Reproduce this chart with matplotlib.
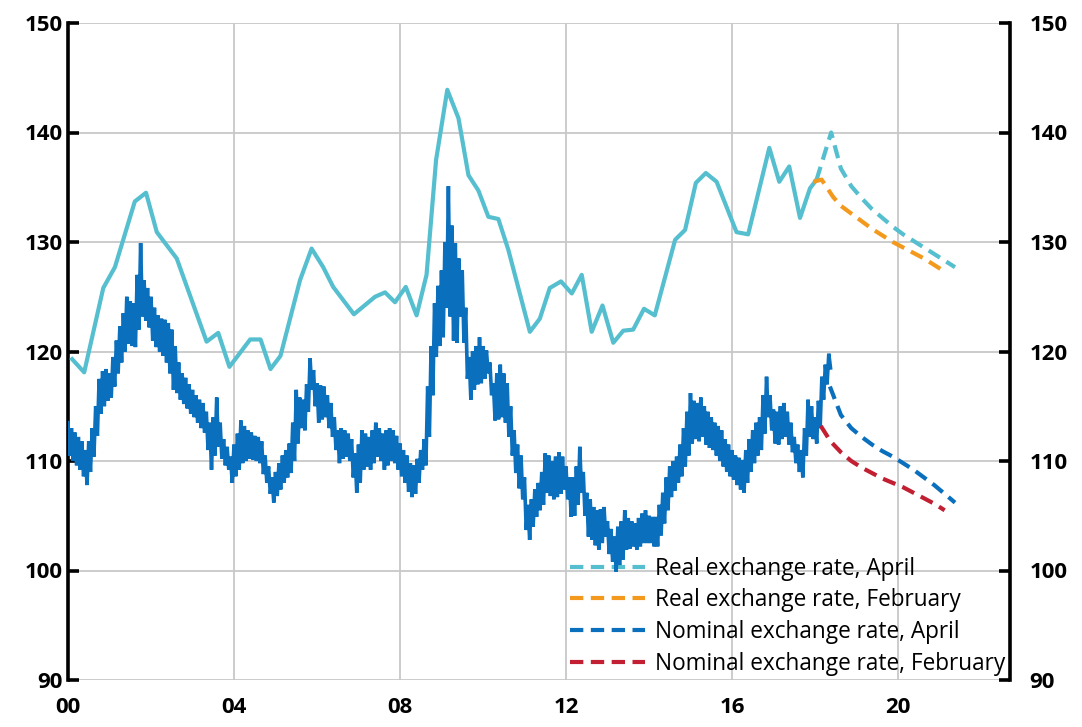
import numpy as np
import matplotlib
matplotlib.use("Agg")
import matplotlib.pyplot as plt

# ---------------- data ----------------
real_years = [2000.10, 2000.39, 2000.85, 2001.13, 2001.61, 2001.88, 2002.14, 2002.62,
              2003.34, 2003.62, 2003.89, 2004.39, 2004.64, 2004.88, 2005.12, 2005.59,
              2005.87, 2006.15, 2006.39, 2006.89, 2007.40, 2007.64, 2007.88, 2008.14,
              2008.40, 2008.64, 2008.87, 2009.14, 2009.41, 2009.65, 2009.89, 2010.13,
              2010.37, 2010.61, 2011.13, 2011.37, 2011.61, 2011.88, 2012.14, 2012.38,
              2012.62, 2012.88, 2013.14, 2013.38, 2013.62, 2013.88, 2014.14, 2014.63,
              2014.87, 2015.13, 2015.37, 2015.63, 2016.11, 2016.39, 2016.90, 2017.14,
              2017.38, 2017.64, 2017.88, 2018.04]
real_values = [119.3, 118.1, 125.8, 127.7, 133.7, 134.5, 130.9, 128.5,
               120.9, 121.7, 118.6, 121.1, 121.1, 118.4, 119.6, 126.5,
               129.4, 127.7, 125.9, 123.4, 125.0, 125.4, 124.5, 125.9,
               123.3, 127.0, 137.5, 143.9, 141.3, 136.1, 134.7, 132.3,
               132.1, 129.3, 121.8, 123.0, 125.8, 126.4, 125.3, 127.0,
               121.8, 124.2, 120.8, 121.9, 122.0, 123.9, 123.3, 130.2,
               131.1, 135.4, 136.3, 135.5, 130.9, 130.7, 138.6, 135.5,
               136.9, 132.2, 134.9, 135.7]

# monthly high / low envelope of the daily nominal rate, Jan 2000 - May 2018
nominal_start = 2000.0
nominal_high = [
    113.5, 113.0, 112.6, 112.2, 111.8, 111.0, 111.8, 113.0, 115.0, 117.5, 118.2, 118.4,  # 2000
    118.0, 119.5, 121.0, 122.3, 123.5, 125.0, 124.6, 124.4, 127.0, 129.9, 126.5, 125.8,  # 2001
    125.0, 124.0, 123.3, 123.0, 122.9, 122.6, 122.0, 120.5, 119.0, 118.0, 117.6, 117.0,  # 2002
    116.5, 116.0, 115.6, 115.3, 114.5, 113.5, 114.0, 115.8, 113.5, 112.0, 111.3, 110.4,  # 2003
    111.5, 112.5, 113.7, 113.2, 112.8, 112.6, 112.3, 112.2, 111.8, 110.5, 109.5, 108.5,  # 2004
    109.0, 109.8, 110.5, 111.0, 111.6, 113.5, 116.5, 115.8, 115.6, 117.0, 119.4, 118.3,  # 2005
    117.1, 116.9, 116.8, 116.0, 115.3, 114.0, 112.8, 113.0, 112.8, 112.5, 112.0, 110.7,  # 2006
    111.5, 112.8, 112.5, 112.2, 112.8, 113.5, 113.0, 112.5, 112.8, 113.0, 112.8, 112.3,  # 2007
    111.6, 111.0, 110.5, 109.8, 109.6, 110.2, 111.0, 112.0, 116.8, 120.5, 124.4, 126.0,  # 2008
    127.4, 130.0, 135.1, 131.5, 129.9, 128.5, 127.4, 124.0, 119.5, 120.0, 120.5, 121.3,  # 2009
    120.5, 120.1, 119.0, 117.1, 118.0, 118.8, 118.0, 117.1, 115.0, 112.8, 111.5, 110.5,  # 2010
    108.5, 106.0, 106.5, 107.4, 108.0, 109.0, 110.7, 110.5, 110.0, 110.4, 110.8, 110.4,  # 2011
    109.5, 108.5, 108.5, 109.5, 111.3, 109.0, 107.1, 106.5, 105.8, 105.5, 105.6, 105.8,  # 2012
    104.5, 103.8, 103.1, 104.0, 104.5, 105.5, 104.8, 104.5, 104.3, 104.8, 105.2, 105.5,  # 2013
    105.0, 104.9, 104.9, 106.0, 107.1, 108.5, 109.5, 110.0, 110.4, 111.5, 113.0, 114.5,  # 2014
    116.2, 115.5, 115.3, 115.8, 115.0, 114.5, 114.0, 113.5, 113.2, 112.8, 112.0, 111.5,  # 2015
    111.0, 110.5, 110.3, 110.1, 111.0, 112.0, 112.8, 113.5, 114.0, 116.0, 117.7, 116.0,  # 2016
    114.7, 114.5, 115.0, 115.3, 114.5, 113.5, 112.2, 111.5, 111.0, 113.0, 115.6, 115.0,  # 2017
    114.0, 115.5, 117.7, 118.8, 119.8,                                                    # 2018
]
nominal_low = [
    110.5, 110.0, 109.6, 109.2, 108.6, 107.8, 109.0, 110.4, 112.3, 114.3, 115.0, 115.5,  # 2000
    115.8, 116.8, 118.0, 119.0, 120.0, 120.7, 120.5, 120.4, 122.0, 123.2, 122.8, 122.2,  # 2001
    121.0, 120.4, 120.0, 119.6, 119.0, 118.0, 116.5, 116.2, 115.6, 115.2, 114.8, 114.3,  # 2002
    114.0, 113.5, 113.0, 112.6, 111.0, 109.2, 110.5, 111.3, 110.2, 109.6, 109.2, 108.0,  # 2003
    108.6, 109.2, 109.8, 110.0, 110.2, 110.1, 110.0, 109.8, 108.8, 108.0, 107.0, 106.2,  # 2004
    106.8, 107.4, 108.0, 108.5, 108.9, 110.0, 111.6, 113.0, 112.8, 114.5, 116.5, 115.0,  # 2005
    113.5, 113.8, 114.0, 113.0, 112.2, 111.0, 109.8, 110.2, 110.4, 110.0, 108.5, 107.1,  # 2006
    108.0, 109.2, 109.5, 109.2, 109.8, 110.4, 110.0, 109.2, 109.6, 110.0, 109.8, 109.2,  # 2007
    108.6, 108.0, 107.2, 106.7, 107.0, 108.0, 109.2, 109.6, 112.2, 116.0, 119.5, 120.5,  # 2008
    121.3, 124.0, 123.2, 121.0, 120.8, 123.2, 120.8, 117.5, 115.6, 116.5, 117.0, 117.1,  # 2009
    117.5, 118.0, 116.0, 113.7, 113.8, 114.0, 113.5, 112.2, 110.5, 108.9, 107.5, 106.5,  # 2010
    103.7, 102.8, 104.0, 104.9, 105.5, 106.0, 107.1, 106.8, 106.5, 106.7, 107.0, 107.4,  # 2011
    106.5, 104.9, 105.0, 106.0, 107.1, 105.0, 103.1, 102.8, 102.3, 101.9, 102.5, 103.1,  # 2012
    101.5, 100.8, 99.9, 100.5, 101.0, 101.9, 102.0, 102.2, 101.9, 102.2, 102.5, 102.5,   # 2013
    102.5, 102.2, 102.2, 103.2, 104.3, 105.5, 106.7, 107.3, 108.0, 108.6, 109.5, 110.5,  # 2014
    111.6, 112.0, 111.8, 112.2, 111.5, 111.2, 111.0, 110.5, 110.0, 109.5, 109.0, 108.6,  # 2015
    108.3, 107.8, 107.4, 107.1, 108.0, 109.0, 109.8, 110.5, 111.0, 112.5, 114.0, 112.8,  # 2016
    111.6, 111.5, 112.0, 112.2, 111.5, 110.8, 109.8, 109.0, 108.5, 110.5, 112.2, 112.0,  # 2017
    111.6, 113.0, 115.6, 117.0, 118.5,                                                    # 2018
]

real_april_years = [2018.04, 2018.39, 2018.625, 2018.875, 2019.125, 2019.375, 2019.625,
                    2019.875, 2020.125, 2020.375, 2020.625, 2020.875, 2021.125, 2021.375]
real_april = [135.7, 140.0, 136.7, 135.1, 134.0, 133.0, 132.2, 131.4, 130.7, 130.1,
              129.5, 128.9, 128.3, 127.7]

real_feb_years = [2017.96, 2018.16, 2018.44, 2018.625, 2018.875, 2019.125, 2019.375,
                  2019.625, 2019.875, 2020.125, 2020.375, 2020.625, 2020.875, 2021.125]
real_feb = [135.5, 135.7, 134.1, 133.3, 132.6, 131.9, 131.2, 130.6, 130.0, 129.5,
            129.0, 128.5, 127.9, 127.3]

nominal_april_years = [2018.36, 2018.625, 2018.875, 2019.125, 2019.375, 2019.625, 2019.875,
                       2020.125, 2020.375, 2020.625, 2020.875, 2021.125, 2021.375]
nominal_april = [116.8, 114.2, 113.0, 112.2, 111.5, 110.9, 110.4, 109.8, 109.2, 108.5,
                 107.8, 107.0, 106.2]

nominal_feb_years = [2018.14, 2018.375, 2018.625, 2018.875, 2019.125, 2019.375, 2019.625,
                     2019.875, 2020.125, 2020.375, 2020.625, 2020.875, 2021.125]
nominal_feb = [113.2, 111.8, 110.8, 110.0, 109.4, 108.9, 108.4, 108.0, 107.6, 107.1,
               106.6, 106.1, 105.5]

xtick_years = [2000, 2004, 2008, 2012, 2016, 2020]
xtick_labels = ["00", "04", "08", "12", "16", "20"]
yticks = [90, 100, 110, 120, 130, 140, 150]

legend_labels = ["Real exchange rate, April", "Real exchange rate, February",
                 "Nominal exchange rate, April", "Nominal exchange rate, February"]

# ---------------- colours ----------------
c_real = "#55BFCF"
c_nom = "#0A6FBD"
c_orange = "#F39A1E"
c_red = "#C21F32"

TICK_FAMILY = ["Open Sans", "DejaVu Sans"]
LEG_FAMILY = ["Open Sans", "DejaVu Sans"]

# ---------------- figure ----------------
fig = plt.figure(figsize=(10.82, 7.27), dpi=100)
ax = fig.add_axes([68 / 1082, 1 - 680 / 727, (1010 - 68) / 1082, (680 - 23) / 727])

# nominal daily band (zig-zag between monthly high and low)
n = len(nominal_high)
xs = np.empty(2 * n)
ys = np.empty(2 * n)
xs[0::2] = nominal_start + np.arange(n) / 12.0
xs[1::2] = nominal_start + np.arange(n) / 12.0 + 1 / 24.0
ys[0::2] = nominal_high
ys[1::2] = nominal_low
ax.plot(xs, ys, color=c_nom, lw=2.6, solid_joinstyle="miter", zorder=3)

ax.plot(real_years, real_values, color=c_real, lw=3.0, zorder=4)

dash = (0, (3.2, 1.8))
l1, = ax.plot(real_april_years, real_april, color=c_real, lw=3.0, ls=dash, zorder=4)
l2, = ax.plot(real_feb_years, real_feb, color=c_orange, lw=3.0, ls=dash, zorder=4)
l3, = ax.plot(nominal_april_years, nominal_april, color=c_nom, lw=3.0, ls=dash, zorder=4)
l4, = ax.plot(nominal_feb_years, nominal_feb, color=c_red, lw=3.0, ls=dash, zorder=4)

ax.set_xlim(2000, 2022.7)
ax.set_ylim(90, 150)

ax.set_xticks(xtick_years)
ax.set_xticklabels(xtick_labels)
ax.set_yticks(yticks)
ax.grid(True, color="#C8C8C8", lw=1.3, zorder=0)
ax.set_axisbelow(True)

for side in ("top", "bottom", "right"):
    ax.spines[side].set_visible(False)
ax.spines["left"].set_linewidth(2.6)
ax.spines["left"].set_color("black")

ax.tick_params(axis="y", direction="in", length=8, width=2.6, pad=4)
ax.tick_params(axis="x", length=0, pad=12)

# right-hand axis (same scale)
ax2 = ax.twinx()
ax2.set_ylim(ax.get_ylim())
ax2.set_yticks(yticks)
for side in ("top", "bottom", "left"):
    ax2.spines[side].set_visible(False)
ax2.spines["right"].set_linewidth(2.6)
ax2.spines["right"].set_color("black")
ax2.tick_params(axis="y", direction="in", length=8, width=2.6, pad=14)

for a in (ax, ax2):
    for t in a.xaxis.get_major_ticks() + a.yaxis.get_major_ticks():
        for lab in (t.label1, t.label2):
            lab.set_fontfamily(TICK_FAMILY)
            lab.set_fontweight("bold")
            lab.set_fontsize(16)

leg = ax.legend([l1, l2, l3, l4], legend_labels, loc="lower right",
                bbox_to_anchor=(1.006, -0.009), frameon=False,
                prop=dict(family=LEG_FAMILY, size=16.3), handlelength=3.3,
                handletextpad=0.45, labelspacing=0.34, borderaxespad=0.05)
leg.set_zorder(2)

fig.savefig("out.png", dpi=100)
